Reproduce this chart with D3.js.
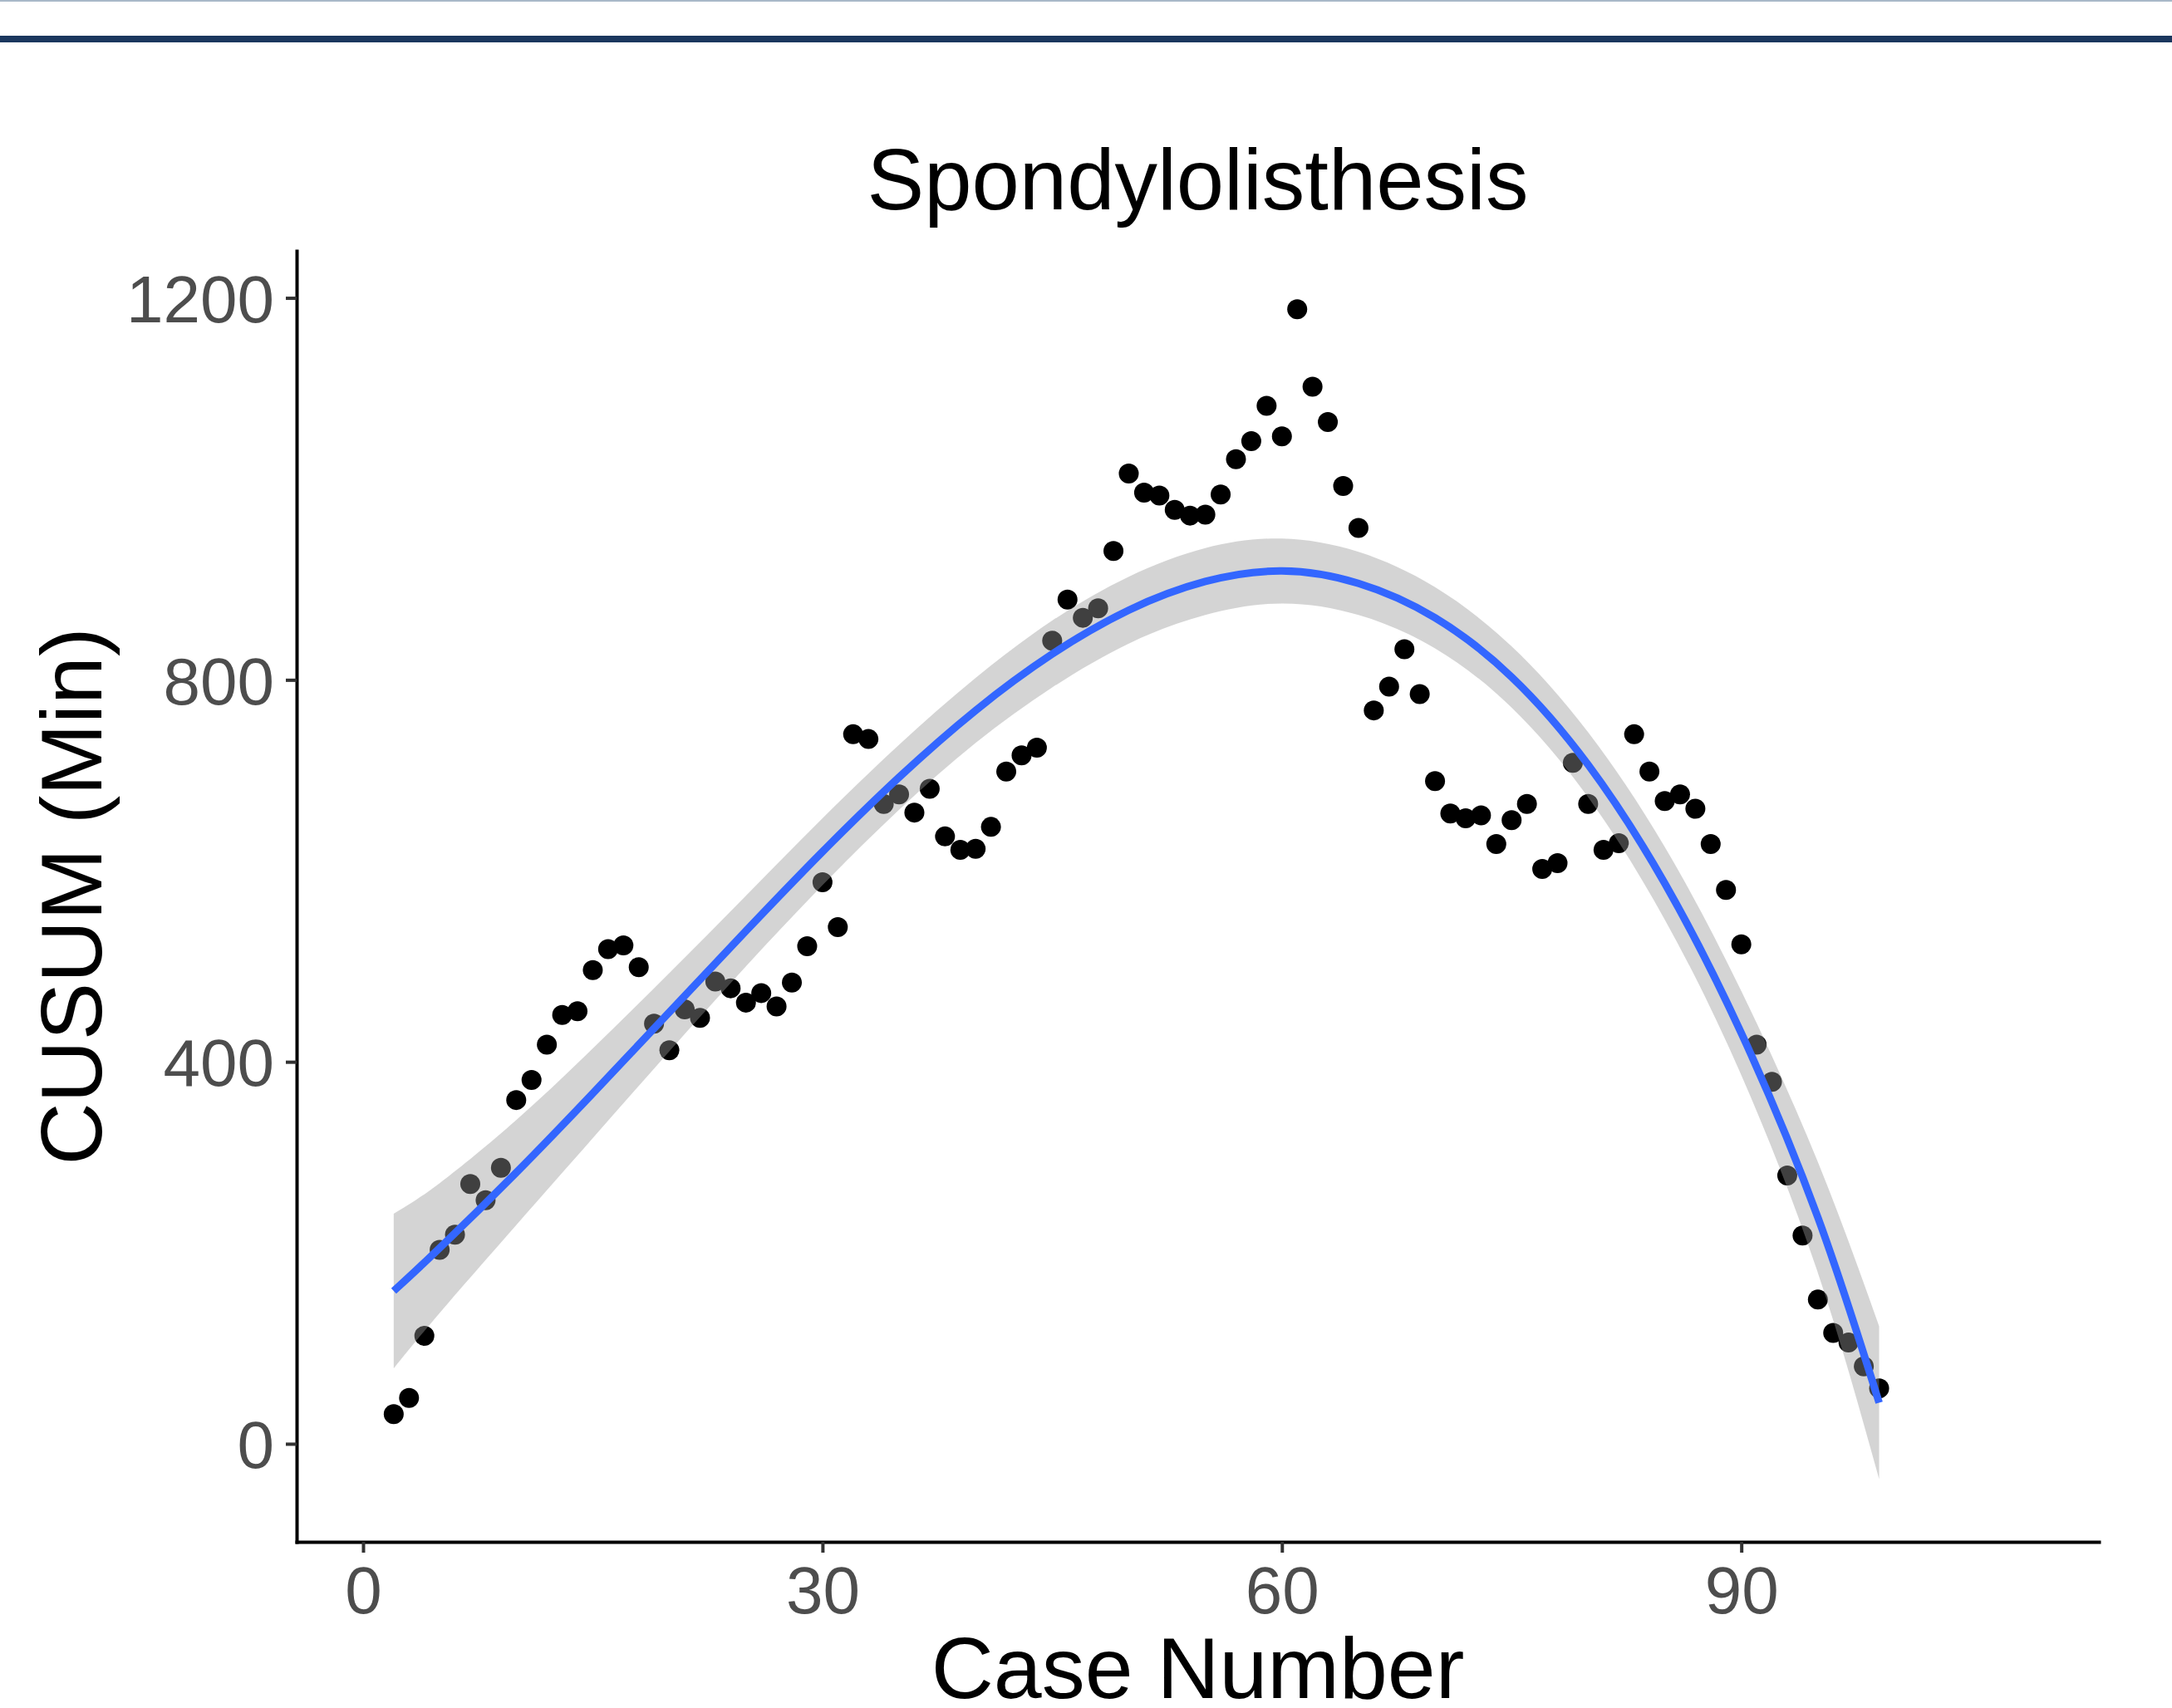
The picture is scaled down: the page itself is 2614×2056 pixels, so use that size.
<!DOCTYPE html>
<html>
<head>
<meta charset="utf-8">
<script src="https://cdn.jsdelivr.net/npm/d3@7"></script>
<style>
  body { margin: 0; background: #fff; }
  svg { display: block; font-family: "Liberation Sans", Arial, Helvetica, sans-serif; }
</style>
</head>
<body>
<svg id="chart" width="2614" height="2056"></svg>
<script>

// CUSUM of operative time per case
var caseNumber = [
   2,  3,  4,  5,  6,  7,  8,  9, 10, 11, 12, 13, 14, 15, 16, 17, 18, 19, 20, 21,
  22, 23, 24, 25, 26, 27, 28, 29, 30, 31, 32, 33, 34, 35, 36, 37, 38, 39, 40, 41,
  42, 43, 44, 45, 46, 47, 48, 49, 50, 51, 52, 53, 54, 55, 56, 57, 58, 59, 60, 61,
  62, 63, 64, 65, 66, 67, 68, 69, 70, 71, 72, 73, 74, 75, 76, 77, 78, 79, 80, 81,
  82, 83, 84, 85, 86, 87, 88, 89, 90, 91, 92, 93, 94, 95, 96, 97, 98, 99
];
var cusum = [
    31,   48,  113,  203,  219,  272,  255,  289,  360,  381,  418,  449,  453,  496,  518,  522,  499,  440,  412,  455,
   446,  484,  477,  462,  472,  458,  483,  521,  588,  541,  743,  738,  670,  680,  661,  686,  636,  622,  623,  646,
   704,  721,  729,  841,  884,  865,  875,  935, 1016,  996,  993,  978,  972,  973,  994, 1031, 1050, 1087, 1055, 1188,
  1107, 1070, 1003,  959,  768,  793,  832,  785,  694,  660,  655,  658,  628,  653,  670,  602,  608,  713,  670,  622,
   629,  743,  704,  673,  680,  665,  628,  580,  523,  418,  379,  281,  218,  151,  116,  106,   81,   58
];

// smoothed trend with its confidence band
var fitCase  = [  2,   5,  10,  15,  20,  25,  30,  35,  40,  45,  50,  55,  60,  65,  70,  75,  80,  85,  90,  95,  99];
var fitValue = [160, 205, 284, 367, 452, 537, 620, 698, 768, 827, 873, 903, 914, 901, 865, 803, 711, 587, 430, 237,  43];
var fitLower = [ 79, 137, 229, 320, 411, 500, 585, 664, 734, 792, 838, 868, 880, 868, 833, 771, 677, 549, 386, 179, -37];
var fitUpper = [241, 273, 339, 414, 493, 574, 655, 732, 802, 862, 908, 938, 948, 934, 897, 835, 745, 625, 474, 295, 123];

var xTicks = [0, 30, 60, 90];
var yTicks = [0, 400, 800, 1200];

var chartTitle = "Spondylolisthesis",
    xTitle = "Case Number",
    yTitle = "CUSUM (Min)";

function drawChart(svg){

  var width = +svg.attr("width");

  // panel edges in pixels
  var panelLeft = 357, panelRight = 2526, panelTop = 302, panelBottom = 1856;

  var x = d3.scaleLinear().domain([-4.34, 113.35]).range([panelLeft, panelRight]);
  var y = d3.scaleLinear().domain([-102.7, 1249.2]).range([panelBottom, panelTop]);

  // header rules of the page
  svg.append("rect").attr("x", 0).attr("y", 0).attr("width", width).attr("height", 2).attr("fill", "#a9b8c8");
  svg.append("rect").attr("x", 0).attr("y", 43).attr("width", width).attr("height", 8).attr("fill", "#1b375e");

  var points = caseNumber.map(function(c, i) { return {c: c, v: cusum[i]}; });
  var fit = fitCase.map(function(c, i) {
    return {c: c, v: fitValue[i], lo: fitLower[i], hi: fitUpper[i]};
  });

  // Points first, then the band over them, then the fitted line
  svg.append("g").selectAll("circle")
      .data(points)
      .enter().append("circle")
      .attr("cx", function(d) { return x(d.c); })
      .attr("cy", function(d) { return y(d.v); })
      .attr("r", 12)
      .attr("fill", "#000");

  var band = d3.area()
      .curve(d3.curveNatural)
      .x(function(d) { return x(d.c); })
      .y0(function(d) { return y(d.lo); })
      .y1(function(d) { return y(d.hi); });

  svg.append("path")
      .datum(fit)
      .attr("d", band)
      .attr("fill", "#999999")
      .attr("fill-opacity", 0.42);

  var trend = d3.line()
      .curve(d3.curveNatural)
      .x(function(d) { return x(d.c); })
      .y(function(d) { return y(d.v); });

  svg.append("path")
      .datum(fit)
      .attr("d", trend)
      .attr("fill", "none")
      .attr("stroke", "#3366FF")
      .attr("stroke-width", 9);

  // Axes
  var xAxis = svg.append("g")
      .attr("transform", "translate(0," + panelBottom + ")")
      .call(d3.axisBottom(x).tickValues(xTicks).tickFormat(d3.format("d"))
              .tickSize(13).tickSizeOuter(0).tickPadding(16));

  var yAxis = svg.append("g")
      .attr("transform", "translate(" + panelLeft + ",0)")
      .call(d3.axisLeft(y).tickValues(yTicks).tickFormat(d3.format("d"))
              .tickSize(13).tickSizeOuter(0).tickPadding(14));

  [xAxis, yAxis].forEach(function(g) {
    g.select(".domain").attr("stroke", "#000").attr("stroke-width", 4).attr("stroke-linecap", "square");
    g.selectAll(".tick line").attr("stroke", "#333333").attr("stroke-width", 4);
    g.selectAll(".tick text")
      .attr("fill", "#4d4d4d")
      .attr("font-size", 80)
      .attr("font-family", "Liberation Sans, Arial, sans-serif");
  });
  yAxis.selectAll(".tick text").attr("dy", "0.36em");

  // Titles
  svg.append("text")
      .attr("x", (panelLeft + panelRight) / 2)
      .attr("y", 252)
      .attr("text-anchor", "middle")
      .attr("font-size", 103)
      .attr("fill", "#000")
      .text(chartTitle);

  svg.append("text")
      .attr("x", (panelLeft + panelRight) / 2)
      .attr("y", 2044)
      .attr("text-anchor", "middle")
      .attr("font-size", 104)
      .attr("fill", "#000")
      .text(xTitle);

  svg.append("text")
      .attr("transform", "translate(122," + (panelTop + panelBottom) / 2 + ") rotate(-90)")
      .attr("text-anchor", "middle")
      .attr("font-size", 104)
      .attr("fill", "#000")
      .text(yTitle);
}

drawChart(d3.select("#chart"));

</script>
</body>
</html>
